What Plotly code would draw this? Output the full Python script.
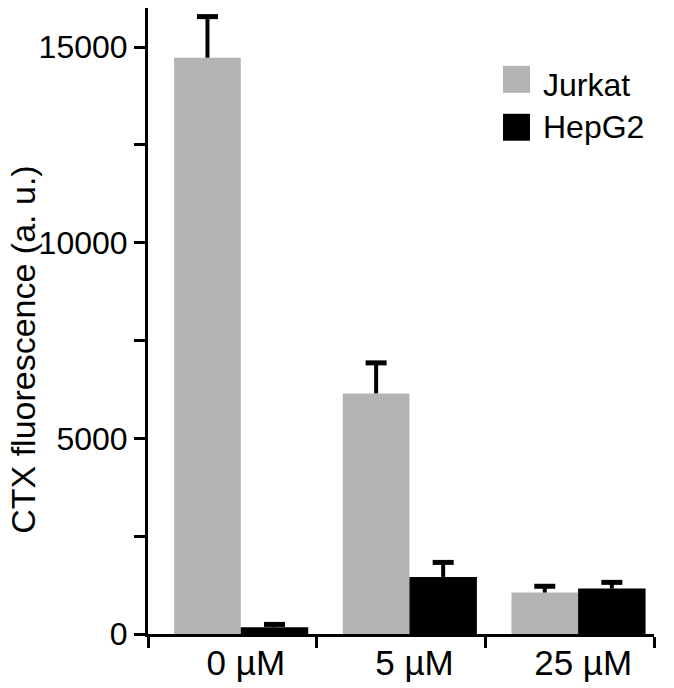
import plotly.graph_objects as go

# data
doses = ["0 µM", "5 µM", "25 µM"]
series = ["Jurkat", "HepG2"]
jurkat = [14730, 6150, 1060]
jurkat_err = [1050, 780, 160]
hepg2 = [175, 1460, 1160]
hepg2_err = [70, 370, 160]
yticks = [0, 2500, 5000, 7500, 10000, 12500, 15000]
ylabels = ["0", "", "5000", "", "10000", "", "15000"]

colors = ["#b3b3b3", "#000000"]
offsets = [-0.345, 0.05]
bar_w = [0.395, 0.4]
font = "Liberation Sans, Arial, sans-serif"

xs = list(range(len(doses)))
fig = go.Figure()

for name, vals, errs, col, off, w in zip(series, [jurkat, hepg2], [jurkat_err, hepg2_err],
                                         colors, offsets, bar_w):
    fig.add_trace(go.Bar(
        x=xs, y=vals, name=name, offset=off, width=w,
        marker=dict(color=col, line=dict(width=0)),
        error_y=dict(type="data", symmetric=False, array=errs, arrayminus=[0] * len(errs),
                     color="black", thickness=4, width=0),
        showlegend=False,
    ))
    # caps of the error bars (top only)
    fig.add_trace(go.Scatter(
        x=[x + off + w / 2 for x in xs],
        y=[v + e for v, e in zip(vals, errs)],
        mode="markers",
        marker=dict(symbol="line-ew", size=15, color="black", line=dict(width=5, color="black")),
        hoverinfo="skip", showlegend=False,
    ))

# the page body adds an 8px margin, so the figure is 8px smaller than the window
fig.update_layout(
    width=666, height=680,
    margin=dict(l=140, r=20, t=0, b=54),
    plot_bgcolor="white", paper_bgcolor="white",
    barmode="overlay",
    font=dict(family=font, size=32, color="black"),
)

fig.update_xaxes(
    range=[-0.5, 2.5], tickvals=[x + 0.08 for x in xs], ticktext=doses, automargin=False,
    ticks="", ticklabelstandoff=-4,
    minor=dict(tickvals=[-0.5, 0.5, 1.5, 2.5], ticks="outside", ticklen=11, tickwidth=3, tickcolor="black"),
    showline=True, linewidth=3, linecolor="black", showgrid=False, zeroline=False,
    tickfont=dict(size=35),
)
fig.update_yaxes(
    range=[0, 16000], tickvals=yticks, ticktext=ylabels, automargin=False,
    ticks="outside", ticklen=11, tickwidth=3, tickcolor="black",
    showline=True, linewidth=3, linecolor="black", showgrid=False, zeroline=False,
    tickfont=dict(size=32),
)

fig.add_annotation(
    text="CTX fluorescence (a. u.)", textangle=-90,
    xref="paper", yref="paper", x=-0.247, y=0.454,
    xanchor="center", yanchor="middle", showarrow=False,
    font=dict(size=34),
)

# legend drawn by hand so the swatches can be as large as in the reference
leg_y = [(0.9076, 0.8645, 0.877), (0.831, 0.788, 0.8103)]
for name, col, (y1, y0, ty) in zip(series, colors, leg_y):
    fig.add_shape(type="rect", xref="paper", yref="paper", x0=0.7016, x1=0.755, y0=y0, y1=y1,
                  fillcolor=col, line=dict(width=0))
    fig.add_annotation(text=name, xref="paper", yref="paper", x=0.776, y=ty,
                       xanchor="left", yanchor="middle", showarrow=False, font=dict(size=32))

fig.write_html("out.html")
